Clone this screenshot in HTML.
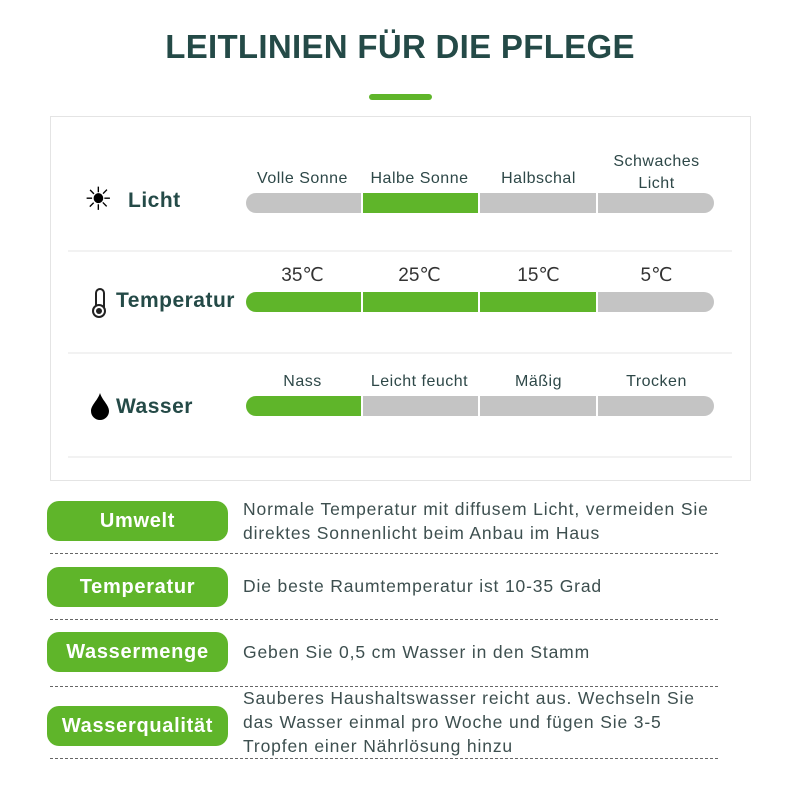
<!DOCTYPE html><html><head><meta charset="utf-8"><style>
body{margin:0;width:800px;height:800px;background:#fff;position:relative;font-family:"Liberation Sans","DejaVu Sans",sans-serif;overflow:hidden}
.a{position:absolute}
.t{left:0;width:800px;top:28px;text-align:center;font-size:33px;font-weight:bold;color:#244a47;letter-spacing:0.3px}
.card{left:50px;top:116px;width:699px;height:363px;border:1px solid #e4e4e4}
.sep{left:68px;width:664px;height:2px;background:#f2f2f2}
.seg{height:20px;background:#c4c4c4}
.g{background:#5fb52a}
.lab{font-size:16px;color:#2e4848;text-align:center;width:117px;letter-spacing:0.5px}
.big{font-size:19px;color:#333;letter-spacing:0}
.rl{font-size:21px;font-weight:bold;color:#244a47;letter-spacing:0.5px}
.pill{left:47px;width:181px;height:40px;border-radius:12px;background:#5fb52a;color:#fff;font-weight:bold;font-size:20px;text-align:center;line-height:40px;letter-spacing:0.7px}
.txt{left:243px;font-size:17.5px;color:#3d4f4f;line-height:24px;letter-spacing:0.85px;white-space:nowrap}
.dash{left:50px;width:668px;border-top:1px dashed #666}
</style></head><body>
<div class="a t">LEITLINIEN FÜR DIE PFLEGE</div>
<div class="a" style="left:369px;top:94px;width:63px;height:6px;border-radius:3px;background:#5fb52a"></div>
<div class="a card"></div>
<div class="a sep" style="top:250px"></div>
<div class="a sep" style="top:352px"></div>
<div class="a sep" style="top:456px"></div>

<div class="a" style="left:84px;top:181px;font-size:32px;color:#000;line-height:36px">☀</div>
<div class="a rl" style="left:128px;top:189px">Licht</div>
<div class="a lab" style="left:244px;top:170px">Volle Sonne</div>
<div class="a lab" style="left:361px;top:170px">Halbe Sonne</div>
<div class="a lab" style="left:480px;top:170px">Halbschal</div>
<div class="a lab" style="left:598px;top:151px;line-height:22px">Schwaches Licht</div>
<div class="a seg" style="left:246px;top:193px;width:115px;border-radius:10px 0 0 10px"></div>
<div class="a seg g" style="left:363px;top:193px;width:115px"></div>
<div class="a seg" style="left:480px;top:193px;width:116px"></div>
<div class="a seg" style="left:598px;top:193px;width:116px;border-radius:0 10px 10px 0"></div>

<div class="a" style="left:95px;top:288px;width:6px;height:22px;border:2px solid #222;border-radius:5px"></div>
<div class="a" style="left:92px;top:304px;width:14px;height:14px;border-radius:50%;border:2px solid #222;background:#fff;box-sizing:border-box"></div>
<div class="a" style="left:96px;top:308px;width:6px;height:6px;border-radius:50%;background:#222"></div>
<div class="a rl" style="left:116px;top:289px">Temperatur</div>
<div class="a lab big" style="left:244px;top:264px">35℃</div>
<div class="a lab big" style="left:361px;top:264px">25℃</div>
<div class="a lab big" style="left:480px;top:264px">15℃</div>
<div class="a lab big" style="left:598px;top:264px">5℃</div>
<div class="a seg g" style="left:246px;top:292px;width:115px;border-radius:10px 0 0 10px"></div>
<div class="a seg g" style="left:363px;top:292px;width:115px"></div>
<div class="a seg g" style="left:480px;top:292px;width:116px"></div>
<div class="a seg" style="left:598px;top:292px;width:116px;border-radius:0 10px 10px 0"></div>

<svg class="a" style="left:90px;top:392px" width="20" height="28"><path d="M10 1 C8 8 1 13 1 19 A9 9 0 0 0 19 19 C19 13 12 8 10 1Z" fill="#000"/></svg>
<div class="a rl" style="left:116px;top:395px">Wasser</div>
<div class="a lab" style="left:244px;top:373px">Nass</div>
<div class="a lab" style="left:361px;top:373px">Leicht feucht</div>
<div class="a lab" style="left:480px;top:373px">Mäßig</div>
<div class="a lab" style="left:598px;top:373px">Trocken</div>
<div class="a seg g" style="left:246px;top:396px;width:115px;border-radius:10px 0 0 10px"></div>
<div class="a seg" style="left:363px;top:396px;width:115px"></div>
<div class="a seg" style="left:480px;top:396px;width:116px"></div>
<div class="a seg" style="left:598px;top:396px;width:116px;border-radius:0 10px 10px 0"></div>

<div class="a pill" style="top:501px">Umwelt</div>
<div class="a txt" style="top:497px">Normale Temperatur mit diffusem Licht, vermeiden Sie<br>direktes Sonnenlicht beim Anbau im Haus</div>
<div class="a dash" style="top:553px"></div>
<div class="a pill" style="top:567px">Temperatur</div>
<div class="a txt" style="top:574px">Die beste Raumtemperatur ist 10-35 Grad</div>
<div class="a dash" style="top:619px"></div>
<div class="a pill" style="top:632px">Wassermenge</div>
<div class="a txt" style="top:640px">Geben Sie 0,5 cm Wasser in den Stamm</div>
<div class="a dash" style="top:686px"></div>
<div class="a pill" style="top:706px">Wasserqualität</div>
<div class="a txt" style="top:686px">Sauberes Haushaltswasser reicht aus. Wechseln Sie<br>das Wasser einmal pro Woche und fügen Sie 3-5<br>Tropfen einer Nährlösung hinzu</div>
<div class="a dash" style="top:758px"></div>
</body></html>
